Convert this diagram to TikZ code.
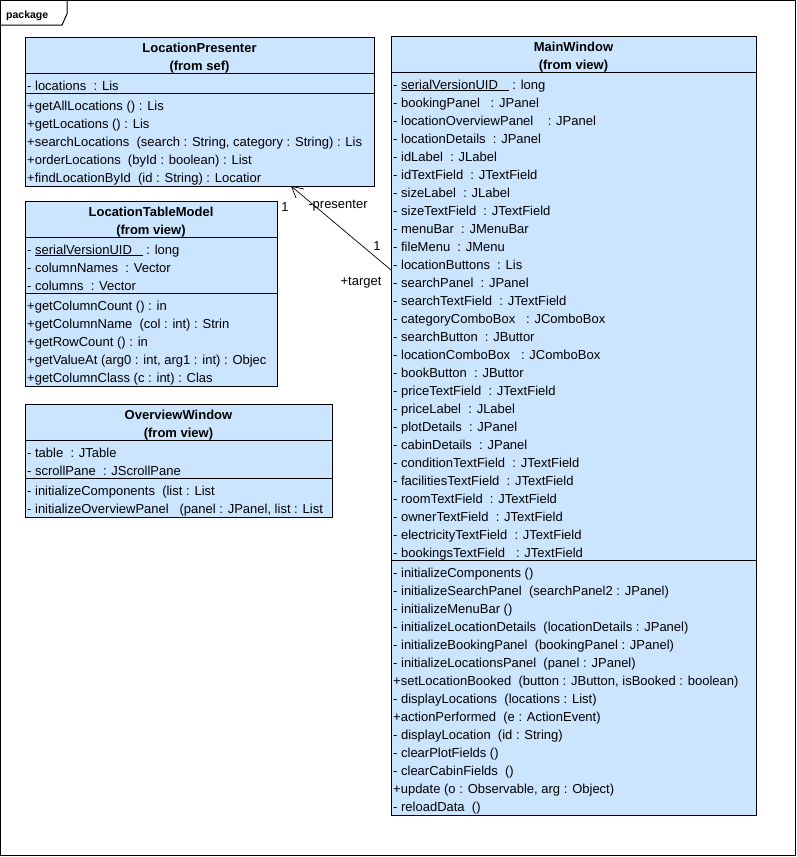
\documentclass[tikz,border=0pt]{standalone}
\usepackage{fontspec}
\setmainfont{Liberation Sans}
\usetikzlibrary{arrows.meta}
\definecolor{boxblue}{RGB}{204,229,255}
\tikzset{
  cls/.style={draw=black, fill=boxblue, line width=1pt, anchor=north west, inner sep=0pt, outer sep=0pt},
  sepline/.style={draw=black, line width=1pt},
  mem/.style={anchor=base west, inner sep=0pt, yshift=-0.5pt, font=\fontsize{13}{15}\selectfont},
  ttl/.style={anchor=base, inner sep=0pt, yshift=-1pt, font=\fontsize{13}{15}\selectfont\bfseries},
  lbl/.style={inner sep=0pt, font=\fontsize{13}{15}\selectfont},
  assoc/.style={draw=black, line width=0.7pt, -{Straight Barb[length=11pt,width=12pt,line width=0.7pt]}},
  frame/.style={draw=black, line width=1pt},
}
\newcommand\memrows[4]{%
  \foreach \t [count=\i] in {#4} {
    \node[mem] (#1-\i) at (#2, {#3+18*(\i-1)}) {\t};
  }%
}
\begin{document}
\begin{tikzpicture}[x=1pt,y=-1pt]
\useasboundingbox (0,0) rectangle (797,857);
% package frame
\draw[frame] (0.5,0.5) rectangle (795.5,855.5);
\draw[frame] (0,25) -- (62,25) -- (67,14) -- (67,0);
\node[anchor=base west, inner sep=0pt, font=\fontsize{10.5}{12}\selectfont\bfseries] (pkg) at (6,18) {package};

% ---------------- LocationPresenter
\node[cls, minimum width=349pt, minimum height=149pt] (lp) at (25,37) {};
\node[ttl] (lp-t1) at (199.5,51.5) {LocationPresenter};
\node[ttl] (lp-t2) at (199.5,69.5) {(from sef)};
\draw[sepline] (lp.west |- 0,73) -- (lp.east |- 0,73);
\draw[sepline] (lp.west |- 0,93) -- (lp.east |- 0,93);
\memrows{lpa}{27}{89.5}{{- locations~~: Lis}}
\memrows{lpm}{27}{109.5}{{+getAllLocations () : Lis},{+getLocations () : Lis},{+searchLocations~~(search : String, category : String) : Lis},{+orderLocations~~(byId : boolean) : List},{+findLocationById~~(id : String) : Locatior}}

% ---------------- LocationTableModel
\node[cls, minimum width=252pt, minimum height=185pt] (ltm) at (25,201) {};
\node[ttl] (ltm-t1) at (151,215.5) {LocationTableModel};
\node[ttl] (ltm-t2) at (151,233.5) {(from view)};
\draw[sepline] (ltm.west |- 0,237) -- (ltm.east |- 0,237);
\draw[sepline] (ltm.west |- 0,293) -- (ltm.east |- 0,293);
\memrows{ltma}{27}{253.5}{{- \underline{serialVersionUID~~~}~: long},{- columnNames~~: Vector},{- columns~~: Vector}}
\memrows{ltmm}{27}{309.5}{{+getColumnCount () : in},{+getColumnName~~(col : int) : Strin},{+getRowCount () : in},{+getValueAt (arg0 : int, arg1 : int) : Objec},{+getColumnClass (c : int) : Clas}}

% ---------------- OverviewWindow
\node[cls, minimum width=307pt, minimum height=113pt] (ow) at (25,404) {};
\node[ttl] (ow-t1) at (178.5,418.5) {OverviewWindow};
\node[ttl] (ow-t2) at (178.5,436.5) {(from view)};
\draw[sepline] (ow.west |- 0,440) -- (ow.east |- 0,440);
\draw[sepline] (ow.west |- 0,478) -- (ow.east |- 0,478);
\memrows{owa}{27}{456.5}{{- table~~: JTable},{- scrollPane~~: JScrollPane}}
\memrows{owm}{27}{494.5}{{- initializeComponents~~(list : List},{- initializeOverviewPanel~~~(panel : JPanel, list : List}}

% ---------------- MainWindow
\node[cls, minimum width=365pt, minimum height=779pt] (mw) at (391,36) {};
\node[ttl] (mw-t1) at (573.5,50.5) {MainWindow};
\node[ttl] (mw-t2) at (573.5,68.5) {(from view)};
\draw[sepline] (mw.west |- 0,72) -- (mw.east |- 0,72);
\draw[sepline] (mw.west |- 0,560) -- (mw.east |- 0,560);
\memrows{mwa}{393}{88.5}{{- \underline{serialVersionUID~~~}~: long},{- bookingPanel~~~: JPanel},{- locationOverviewPanel~~~~: JPanel},{- locationDetails~~: JPanel},{- idLabel~~: JLabel},{- idTextField~~: JTextField},{- sizeLabel~~: JLabel},{- sizeTextField~~: JTextField},{- menuBar~~: JMenuBar},{- fileMenu~~: JMenu},{- locationButtons~~: Lis},{- searchPanel~~: JPanel},{- searchTextField~~: JTextField},{- categoryComboBox~~~: JComboBox},{- searchButton~~: JButtor},{- locationComboBox~~~: JComboBox},{- bookButton~~: JButtor},{- priceTextField~~: JTextField},{- priceLabel~~: JLabel},{- plotDetails~~: JPanel},{- cabinDetails~~: JPanel},{- conditionTextField~~: JTextField},{- facilitiesTextField~~: JTextField},{- roomTextField~~: JTextField},{- ownerTextField~~: JTextField},{- electricityTextField~~: JTextField},{- bookingsTextField~~~: JTextField}}
\memrows{mwm}{393}{576.5}{{- initializeComponents ()},{- initializeSearchPanel~~(searchPanel2 : JPanel)},{- initializeMenuBar ()},{- initializeLocationDetails~~(locationDetails : JPanel)},{- initializeBookingPanel~~(bookingPanel : JPanel)},{- initializeLocationsPanel~~(panel : JPanel)},{+setLocationBooked~~(button : JButton, isBooked : boolean)},{- displayLocations~~(locations : List)},{+actionPerformed~~(e : ActionEvent)},{- displayLocation~~(id : String)},{- clearPlotFields ()},{- clearCabinFields~~()},{+update (o : Observable, arg : Object)},{- reloadData~~()}}

% ---------------- association
\coordinate (tgt) at ([yshift=-234pt]mw.north west);
\coordinate (pre) at ([xshift=266pt]lp.south west);
\draw[assoc] (tgt) -- (pre);
\node[lbl] (m1) at (285,207) {1};
\node[lbl] (rpre) at (338,206) {-presenter};
\node[lbl] (m2) at (377,246) {1};
\node[lbl] (rtgt) at (361,283) {+target};
\end{tikzpicture}
\end{document}
